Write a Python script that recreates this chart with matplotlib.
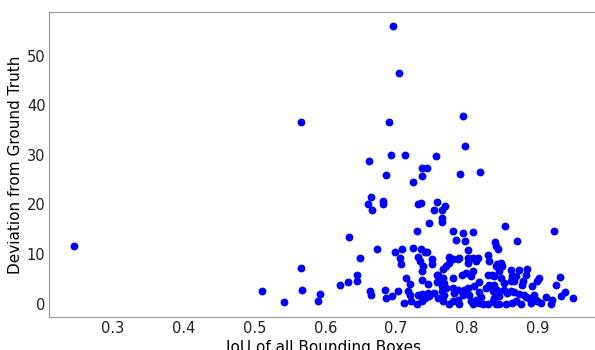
import matplotlib

matplotlib.use("Agg")
import matplotlib.pyplot as plt

# IoU of all bounding boxes (x) vs deviation from ground truth (y)
iou = [
    0.245, 0.511, 0.541, 0.566, 0.566, 0.567, 0.593, 0.590,
    0.696, 0.704, 0.795, 0.690, 0.797, 0.693, 0.713, 0.756, 0.661, 0.736,
    0.743, 0.818, 0.790, 0.686, 0.736, 0.724, 0.664, 0.660, 0.666, 0.681,
    0.682, 0.731, 0.735, 0.757, 0.754, 0.764, 0.769, 0.765, 0.764, 0.746,
    0.853, 0.633, 0.729, 0.780, 0.794, 0.809, 0.923, 0.784, 0.797, 0.871,
    0.839, 0.841, 0.844, 0.673, 0.699, 0.708, 0.724, 0.735, 0.740, 0.743,
    0.802, 0.649, 0.705, 0.707, 0.731, 0.733, 0.738, 0.750, 0.750, 0.736,
    0.757, 0.759, 0.766, 0.775, 0.780, 0.787, 0.789, 0.771, 0.775, 0.801,
    0.801, 0.808, 0.813, 0.815, 0.830, 0.831, 0.843, 0.848, 0.850, 0.841,
    0.845, 0.862, 0.873, 0.884, 0.864, 0.869, 0.883, 0.848, 0.852, 0.838,
    0.862, 0.866, 0.879, 0.878, 0.901, 0.899, 0.931, 0.925, 0.892, 0.645,
    0.644, 0.632, 0.621, 0.663, 0.665, 0.684, 0.686, 0.694, 0.703, 0.711,
    0.714, 0.719, 0.737, 0.745, 0.757, 0.764, 0.717, 0.719, 0.721, 0.729,
    0.731, 0.736, 0.740, 0.745, 0.747, 0.736, 0.754, 0.759, 0.764, 0.766,
    0.766, 0.768, 0.780, 0.793, 0.799, 0.808, 0.806, 0.817, 0.830, 0.835,
    0.768, 0.771, 0.780, 0.782, 0.787, 0.794, 0.796, 0.801, 0.803, 0.810,
    0.817, 0.820, 0.827, 0.831, 0.836, 0.838, 0.843, 0.775, 0.780, 0.787,
    0.789, 0.806, 0.808, 0.813, 0.817, 0.822, 0.829, 0.836, 0.841, 0.838,
    0.845, 0.852, 0.857, 0.862, 0.866, 0.873, 0.880, 0.883, 0.887, 0.894,
    0.897, 0.899, 0.911, 0.920, 0.918, 0.932, 0.939, 0.950, 0.845, 0.855,
    0.864, 0.869, 0.876, 0.890, 0.904,
]
deviation = [
    11.7, 2.5, 0.4, 36.6, 7.1, 2.8, 2.0, 0.5,
    56.0, 46.5, 37.8, 36.6, 31.7, 30.0, 30.0, 29.8, 28.7, 27.3,
    27.3, 26.6, 26.1, 26.0, 25.7, 24.5, 21.4, 20.0, 18.8, 20.7,
    20.0, 20.0, 20.3, 20.4, 18.8, 18.8, 19.6, 17.3, 16.5, 16.2,
    15.7, 13.5, 14.7, 14.7, 14.3, 14.5, 14.7, 12.9, 12.7, 12.6,
    12.4, 11.7, 11.0, 11.0, 10.3, 11.1, 11.2, 11.0, 10.4, 10.3,
    10.8, 9.1, 9.2, 8.0, 9.3, 8.5, 7.5, 8.9, 7.9, 6.5,
    5.8, 5.8, 6.9, 9.4, 8.9, 9.0, 9.2, 7.5, 8.2, 9.2,
    8.2, 9.2, 8.5, 9.2, 9.7, 8.5, 7.9, 8.2, 7.5, 7.5,
    6.5, 6.7, 6.8, 7.0, 5.5, 5.5, 5.8, 5.2, 4.2, 5.5,
    4.5, 4.5, 4.5, 3.8, 5.2, 4.5, 5.3, 3.7, 3.5, 5.8,
    4.6, 4.4, 3.8, 2.6, 1.8, 2.7, 1.1, 1.5, 2.6, 0.1,
    5.2, 4.0, 4.8, 4.0, 4.4, 3.5, 2.5, 1.7, 0.5, 0.0,
    1.7, 1.9, 1.1, 2.2, 1.5, 0.5, 2.2, 1.1, 2.5, 0.5,
    5.2, 4.2, 5.2, 5.8, 6.2, 6.5, 5.5, 4.4, 5.7, 5.8,
    1.8, 3.2, 3.2, 2.2, 2.8, 1.8, 2.8, 3.2, 1.8, 3.5,
    2.4, 1.3, 3.2, 3.8, 2.5, 1.1, 2.8, 0.0, 0.5, 0.8,
    0.0, 0.5, 0.0, 0.8, 0.1, 0.0, 0.0, 0.5, 0.0, 3.8,
    1.5, 2.8, 2.2, 2.5, 2.4, 1.9, 1.8, 1.3, 1.1, 1.8,
    0.8, 0.5, 1.3, 0.8, 0.0, 1.5, 2.4, 1.1, 0.0, 0.0,
    0.1, 0.5, 0.0, 0.1, 0.1,
]


def main() -> None:
    fig = plt.figure(figsize=(5.95, 3.5), dpi=100)
    ax = fig.add_axes([0.0824, 0.093, 0.923, 0.873])

    ax.scatter(iou, deviation, s=32, color="#0000ff", linewidths=0)

    ax.set_xticks([0.3, 0.4, 0.5, 0.6, 0.7, 0.8, 0.9])
    ax.set_yticks([0, 10, 20, 30, 40, 50])
    ax.tick_params(axis="both", length=0, labelsize=10.5, pad=2.5, colors="#222222")
    ax.set_xlabel("IoU of all Bounding Boxes", fontsize=11, labelpad=3)
    ax.set_ylabel("Deviation from Ground Truth", fontsize=11, labelpad=3)
    for spine in ax.spines.values():
        spine.set_color("#999999")

    fig.savefig("out.png", dpi=100)
    plt.close(fig)


if __name__ == "__main__":
    main()
